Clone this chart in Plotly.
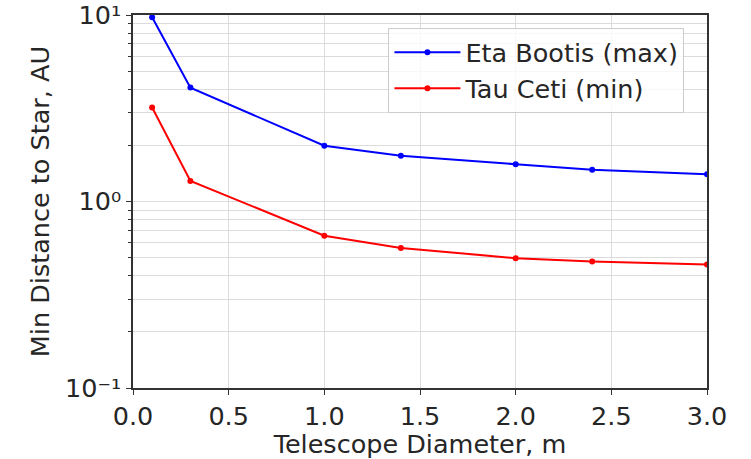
import plotly.graph_objects as go

diam = [0.1, 0.3, 1.0, 1.4, 2.0, 2.4, 3.0]
eta_bootis = [9.72, 4.08, 1.99, 1.76, 1.585, 1.48, 1.40]
tau_ceti = [3.19, 1.29, 0.655, 0.563, 0.497, 0.477, 0.459]

x_ticks = [0.0, 0.5, 1.0, 1.5, 2.0, 2.5, 3.0]
x_ticktext = ["0.0", "0.5", "1.0", "1.5", "2.0", "2.5", "3.0"]
y_ticks = [0.1, 1, 10]
y_ticktext = ["10\u207b\u00b9", "10\u2070", "10\u00b9"]
y_minor = [k * 10.0 ** e for e in (-1, 0) for k in range(2, 10)]

FONT = "DejaVu Sans"
TXT = "#262626"
GRID = "#dcdcdc"
FS = 25.5

fig = go.Figure()
fig.add_trace(go.Scatter(x=diam, y=eta_bootis, mode="lines+markers", name="Eta Bootis (max)",
                         line=dict(color="#0000ff", width=2), marker=dict(size=6, color="#0000ff")))
fig.add_trace(go.Scatter(x=diam, y=tau_ceti, mode="lines+markers", name="Tau Ceti (min)",
                         line=dict(color="#ff0000", width=2), marker=dict(size=6, color="#ff0000")))

fig.update_layout(
    width=751, height=459,
    margin=dict(l=133, r=44, t=15, b=71),
    paper_bgcolor="white", plot_bgcolor="white",
    font=dict(family=FONT, size=FS, color=TXT),
    legend=dict(x=0.445, y=0.965, xanchor="left", yanchor="top",
                bgcolor="rgba(255,255,255,0.8)", bordercolor="#cccccc", borderwidth=1,
                font=dict(size=FS, color=TXT), tracegroupgap=0, itemwidth=66),
    showlegend=True,
)
fig.update_xaxes(
    range=[0, 3], tickvals=x_ticks, ticktext=x_ticktext,
    showgrid=True, gridcolor=GRID, gridwidth=1,
    showline=True, linecolor="#333333", linewidth=1.5, mirror=True,
    ticks="outside", ticklen=5, tickcolor="#333333", zeroline=False,
    tickfont=dict(size=FS, color=TXT), automargin=False, ticklabeloverflow="allow",
    title=dict(text="Telescope Diameter, m", font=dict(size=FS, color=TXT), standoff=4),
)
fig.update_yaxes(
    type="log", range=[-1, 1], tickvals=y_ticks, ticktext=y_ticktext,
    showgrid=True, gridcolor=GRID, gridwidth=1,
    showline=True, linecolor="#333333", linewidth=1.5, mirror=True,
    ticks="outside", ticklen=5, tickcolor="#333333", zeroline=False,
    tickfont=dict(size=FS, color=TXT), automargin=False, ticklabeloverflow="allow",
    minor=dict(tickvals=y_minor, ticks="outside", ticklen=3, tickcolor="#333333",
               showgrid=True, gridcolor=GRID, gridwidth=1),
    title=dict(text="Min Distance to Star, AU", font=dict(size=FS, color=TXT), standoff=8),
)

fig.write_html("out.html")
